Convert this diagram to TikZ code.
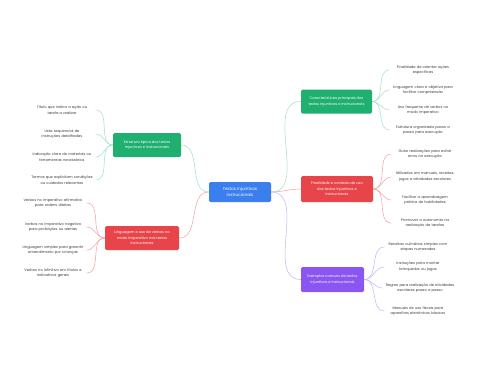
\documentclass[tikz,border=0pt]{standalone}
\usepackage{fontspec}
\setmainfont{Poppins}
\usepackage{xcolor}
\usetikzlibrary{positioning}
\definecolor{hubblue}{HTML}{3B7FEE}
\definecolor{topgreen}{HTML}{1FAF6E}
\definecolor{topred}{HTML}{E8454A}
\definecolor{toppurple}{HTML}{8B55F2}
\definecolor{lnkgreen}{HTML}{A6E2C8}
\definecolor{lnkred}{HTML}{F4A6AA}
\definecolor{lnkpurple}{HTML}{C9B6F8}
\definecolor{leaftext}{HTML}{3A3A3A}
\begin{document}
\begin{tikzpicture}[x=1pt,y=-1pt,
  hub/.style={fill=hubblue,rounded corners=1.5pt,text=white,align=center,
    font=\fontsize{4.2}{6}\selectfont,minimum width=62pt,minimum height=20pt,inner sep=1pt},
  topic/.style={rounded corners=1.5pt,text=white,align=center,
    font=\fontsize{3.6}{5.6}\selectfont,minimum height=24pt,inner sep=1pt},
  leaf/.style={text=leaftext,align=center,text width=64pt,inner sep=1.5pt,
    font=\fontsize{3.6}{5.8}\selectfont},
  lnk/.style={line width=0.55pt}]
 \path[fill=white,use as bounding box] (0,0) rectangle (480,384);
 % centre
 \node[hub] (root) at (240,192) {Textos injuntivos\\instrucionais};
 % main topics
 \node[topic,fill=topgreen,minimum width=68pt] (estr) at (147,145) {Estrutura típica dos textos\\injuntivos e instrucionais};
 \node[topic,fill=topred,minimum width=74pt] (ling) at (142,238) {Linguagem e uso de verbos no\\modo imperativo nos textos\\instrucionais};
 \node[topic,fill=topgreen,minimum width=71pt] (carac) at (336.5,101.5) {Características principais dos\\textos injuntivos e instrucionais};
 \node[topic,fill=topred,minimum width=72pt,minimum height=26pt] (final) at (337,189) {Finalidade e contexto de uso\\dos textos injuntivos e\\instrucionais};
 \node[topic,fill=toppurple,minimum width=63pt,minimum height=25pt] (exem) at (332.5,279.5) {Exemplos comuns de textos\\injuntivos e instrucionais};
 % leaves, left
 \node[leaf] (e1) at (62,110) {Título que indica a ação ou\\tarefa a realizar};
 \node[leaf] (e2) at (62,134) {Lista sequencial de\\instruções detalhadas};
 \node[leaf] (e3) at (62,157) {Indicação clara de materiais ou\\ferramentas necessários};
 \node[leaf] (e4) at (62,180) {Termos que explicitam condições\\ou cuidados relevantes};
 \node[leaf] (l1) at (53,203) {Verbos no imperativo afirmativo\\para ordens diretas};
 \node[leaf] (l2) at (53,227) {Verbos no imperativo negativo\\para proibições ou alertas};
 \node[leaf] (l3) at (53,250) {Linguagem simples para garantir\\entendimento por crianças};
 \node[leaf] (l4) at (53,273) {Verbos no infinitivo em títulos e\\indicativos gerais};
 % leaves, right
 \node[leaf] (c1) at (423,70) {Finalidade de orientar ações\\específicas};
 \node[leaf] (c2) at (423,90) {Linguagem clara e objetiva para\\facilitar compreensão};
 \node[leaf] (c3) at (423,110) {Uso frequente de verbos no\\modo imperativo};
 \node[leaf] (c4) at (423,130) {Estrutura organizada passo a\\passo para execução};
 \node[leaf] (f1) at (425,154) {Guiar realizações para evitar\\erros na execução};
 \node[leaf] (f2) at (425,177) {Utilizados em manuais, receitas,\\jogos e atividades escolares};
 \node[leaf] (f3) at (425,200) {Facilitar a aprendizagem\\prática de habilidades};
 \node[leaf] (f4) at (425,223) {Promover a autonomia na\\realização de tarefas};
 \node[leaf] (x1) at (418,247) {Receitas culinárias simples com\\etapas numeradas};
 \node[leaf] (x2) at (418,267) {Instruções para montar\\brinquedos ou jogos};
 \node[leaf,text width=72pt] (x3) at (420,288) {Regras para realização de atividades\\escolares passo a passo};
 \node[leaf] (x4) at (418,311) {Manuais de uso fáceis para\\aparelhos eletrônicos básicos};
 % connectors
 \draw[lnk,lnkgreen] (root.west) to[out=180,in=0] (estr.east);
 \draw[lnk,lnkred] (root.west) to[out=180,in=0] (ling.east);
 \draw[lnk,lnkgreen] (root.east) to[out=0,in=180] (carac.west);
 \draw[lnk,lnkred] (root.east) to[out=0,in=180] (final.west);
 \draw[lnk,lnkpurple] (root.east) to[out=0,in=180] (exem.west);
 \foreach \t in {e1,e2,e3,e4}
  \draw[lnk,lnkgreen] (estr.west) to[out=180,in=0] (\t.east);
 \foreach \t in {l1,l2,l3,l4}
  \draw[lnk,lnkred] (ling.west) to[out=180,in=0] (\t.east);
 \foreach \t in {c1,c2,c3,c4}
  \draw[lnk,lnkgreen] (carac.east) to[out=0,in=180] (\t.west);
 \foreach \t in {f1,f2,f3,f4}
  \draw[lnk,lnkred] (final.east) to[out=0,in=180] (\t.west);
 \foreach \t in {x1,x2,x3,x4}
  \draw[lnk,lnkpurple] (exem.east) to[out=0,in=180] (\t.west);
\end{tikzpicture}
\end{document}
